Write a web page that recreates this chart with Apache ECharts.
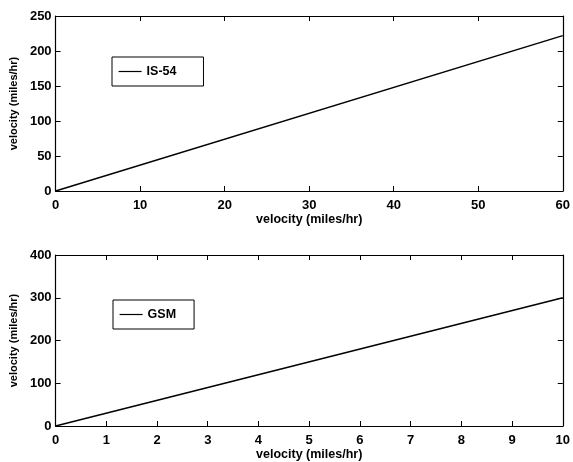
<!DOCTYPE html>
<html>
<head>
<meta charset="utf-8">
<script src="https://cdn.jsdelivr.net/npm/echarts@6/dist/echarts.min.js"></script>
<style>
html,body{margin:0;padding:0;background:#fff;}
#c{width:573px;height:462px;}
</style>
</head>
<body>
<div id="c"></div>
<script>
// Data
var topX = [0, 60];
var topY = [0, 222];
var botX = [0, 10];
var botY = [0, 300];
var topName = 'IS-54';
var botName = 'GSM';
var xTitle = 'velocity (miles/hr)';
var yTitle = 'velocity (miles/hr)';

var FONT = 'Liberation Sans, Arial, Helvetica, sans-serif';
var chart = echarts.init(document.getElementById('c'), null, {renderer: 'canvas'});

function pairs(xs, ys) { return xs.map(function (x, i) { return [x, ys[i]]; }); }

function mainX(gi, max, interval) {
  return {
    type: 'value', gridIndex: gi, min: 0, max: max, interval: interval, position: 'bottom',
    name: xTitle, nameLocation: 'middle', nameGap: 21,
    nameTextStyle: {color: '#000', fontFamily: FONT, fontSize: 12.5, fontWeight: 'bold'},
    axisLine: {show: true, onZero: false, lineStyle: {color: '#000', width: 1.2}},
    axisTick: {show: true, inside: true, length: 5, lineStyle: {color: '#000'}},
    axisLabel: {color: '#000', fontFamily: FONT, fontSize: 13, fontWeight: 'bold', margin: 8},
    splitLine: {show: false}
  };
}
function secX(gi, max, interval) {
  return {
    type: 'value', gridIndex: gi, min: 0, max: max, interval: interval, position: 'top',
    axisLine: {show: true, onZero: false, lineStyle: {color: '#000', width: 1.2}},
    axisTick: {show: true, inside: true, length: 5, lineStyle: {color: '#000'}},
    axisLabel: {show: false}, splitLine: {show: false}
  };
}
function mainY(gi, max, interval) {
  return {
    type: 'value', gridIndex: gi, min: 0, max: max, interval: interval, position: 'left',
    name: yTitle, nameLocation: 'middle', nameGap: 27,
    nameTextStyle: {color: '#000', fontFamily: FONT, fontSize: 11, fontWeight: 'bold'},
    axisLine: {show: true, onZero: false, lineStyle: {color: '#000', width: 1.2}},
    axisTick: {show: true, inside: true, length: 5, lineStyle: {color: '#000'}},
    axisLabel: {color: '#000', fontFamily: FONT, fontSize: 13, fontWeight: 'bold', margin: 4},
    splitLine: {show: false}
  };
}
function secY(gi, max, interval) {
  return {
    type: 'value', gridIndex: gi, min: 0, max: max, interval: interval, position: 'right',
    axisLine: {show: true, onZero: false, lineStyle: {color: '#000', width: 1.2}},
    axisTick: {show: true, inside: true, length: 5, lineStyle: {color: '#000'}},
    axisLabel: {show: false}, splitLine: {show: false}
  };
}
function legend(name, left, top, rightPad) {
  return {
    data: [name], left: left, top: top, orient: 'horizontal',
    padding: [8, rightPad, 8, 6], itemWidth: 23, itemHeight: 14,
    borderColor: '#000', borderWidth: 1, backgroundColor: '#fff',
    itemStyle: {opacity: 0},
    lineStyle: {color: '#000', width: 1.2},
    textStyle: {color: '#000', fontFamily: FONT, fontSize: 12.5, fontWeight: 'bold'},
    selectedMode: false
  };
}

chart.setOption({
  animation: false,
  backgroundColor: '#fff',
  grid: [
    {left: 54, top: 16, width: 513, height: 175},
    {left: 54, top: 255, width: 513, height: 171}
  ],
  xAxis: [mainX(0, 60, 10), secX(0, 60, 10), mainX(1, 10, 1), secX(1, 10, 1)],
  yAxis: [mainY(0, 250, 50), secY(0, 250, 50), mainY(1, 400, 100), secY(1, 400, 100)],
  legend: [legend(topName, 112, 57, 27), legend(botName, 113, 300, 18)],
  series: [
    {name: topName, type: 'line', xAxisIndex: 0, yAxisIndex: 0, data: pairs(topX, topY),
     symbol: 'none', lineStyle: {color: '#000', width: 1.5}, itemStyle: {color: '#000'}},
    {name: botName, type: 'line', xAxisIndex: 2, yAxisIndex: 2, data: pairs(botX, botY),
     symbol: 'none', lineStyle: {color: '#000', width: 1.5}, itemStyle: {color: '#000'}}
  ]
});
</script>
</body>
</html>
